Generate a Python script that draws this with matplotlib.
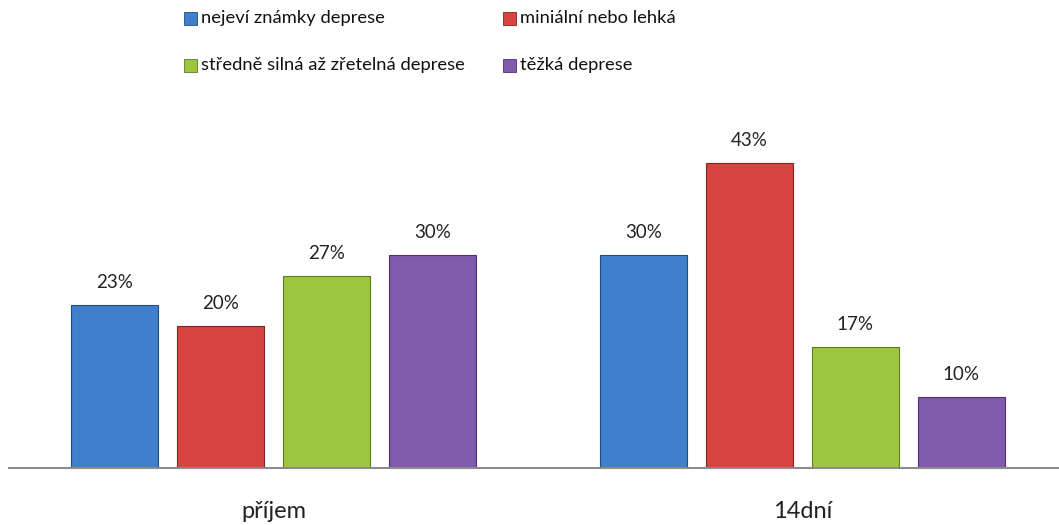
import numpy as np
import matplotlib.pyplot as plt
from matplotlib.patches import Rectangle

# data
groups = ['příjem', '14dní']
series = ['nejeví známky deprese', 'miniální nebo lehká',
          'středně silná až zřetelná deprese', 'těžká deprese']
values = [
    [23, 30],
    [20, 43],
    [27, 17],
    [30, 10],
]
colors = ['#3F7FCC', '#D6443F', '#9CC63E', '#8159AD']
edges = ['#234C80', '#7E2420', '#5C7A22', '#4B3170']

plt.rcParams['font.family'] = ['Lato', 'DejaVu Sans']

W, H = 1059, 525
fig = plt.figure(figsize=(W / 100, H / 100), dpi=100)
ax = fig.add_axes([9 / W, 57 / H, 1050 / W, 338 / H])

x = np.arange(len(groups))
offsets = [-0.3, -0.1, 0.1, 0.3]
width = 0.164

for i, name in enumerate(series):
    bars = ax.bar(x + offsets[i], values[i], width, color=colors[i],
                  edgecolor=edges[i], linewidth=0.8, label=name, zorder=2)
    for b, v in zip(bars, values[i]):
        ax.annotate(f'{v}%', (b.get_x() + b.get_width() / 2, v),
                    xytext=(0, 10), textcoords='offset points',
                    ha='center', va='bottom', fontsize=13.5, color='#222222')

ax.set_xlim(-0.5, 1.485)
ax.set_ylim(0, 47.6)
for s in ['top', 'right', 'left']:
    ax.spines[s].set_visible(False)
ax.spines['bottom'].set_color('#8C8C8C')
ax.spines['bottom'].set_linewidth(1.5)
ax.set_yticks([])
ax.set_xticks(x)
ax.set_xticklabels(groups, fontsize=17, color='#222222')
ax.tick_params(axis='x', length=0, pad=24)

# legend, laid out row by row like the original
leg_x = [184, 503]
leg_y = [18, 65]
for i, name in enumerate(series):
    px = leg_x[i % 2]
    py = leg_y[i // 2]
    fig.patches.append(Rectangle((px / W, 1 - (py + 6.5) / H), 13 / W, 13 / H,
                                 transform=fig.transFigure, facecolor=colors[i],
                                 edgecolor=edges[i], linewidth=0.6))
    fig.text((px + 17) / W, 1 - py / H, name, fontsize=13.2, color='#111111',
             ha='left', va='center')

fig.savefig('out.png', dpi=100)
